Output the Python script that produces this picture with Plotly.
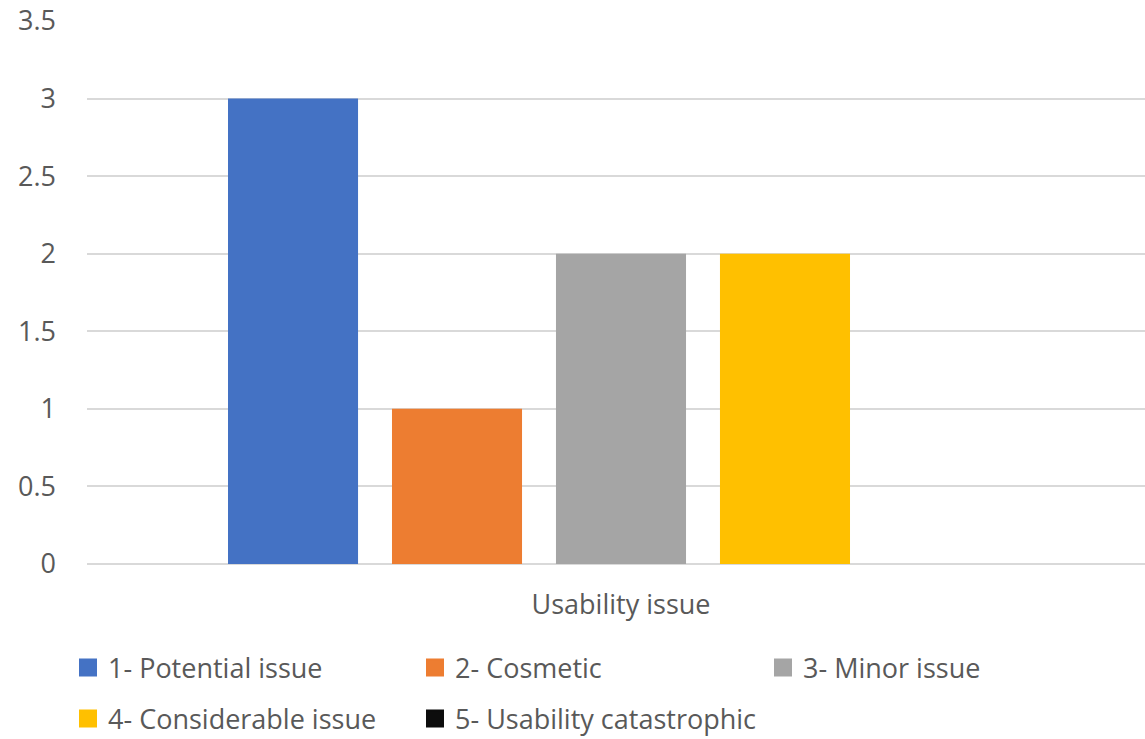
import plotly.graph_objects as go

# Severity ratings counted for the usability evaluation
category = ["Usability issue"]
series_names = [
    "1- Potential issue",
    "2- Cosmetic",
    "3- Minor issue",
    "4- Considerable issue",
    "5- Usability catastrophic",
]
series_values = [3, 1, 2, 2, 0]
series_colors = ["#4472C4", "#ED7D31", "#A5A5A5", "#FFC000", "#0D0D0D"]

FONT = "Open Sans"
FS = 27
TEXT = "#595959"
GRID = "#D9D9D9"

W, H = 1145, 739
L, T, B = 87, 21, 175
plot_h = H - T - B
plot_w = W - L


def px_x(px):
    return (px - L) / plot_w


def px_y(py):
    return (H - B - py) / plot_h


fig = go.Figure()

# bars (legend entries drawn separately with larger square markers)
for name, val, col in zip(series_names, series_values, series_colors):
    fig.add_trace(go.Bar(
        x=category, y=[val], name=name, marker_color=col,
        marker_line_width=0, showlegend=False, legendgroup=name,
    ))

# legend layout: three columns, two rows
legend_pos = [
    (110, 668), (457, 668), (805, 668),
    (110, 719), (457, 719),
]
legend_keys = ["legend", "legend2", "legend3", "legend4", "legend5"]
for name, col, key in zip(series_names, series_colors, legend_keys):
    fig.add_trace(go.Scatter(
        x=[None], y=[None], mode="markers", name=name, legendgroup=name,
        marker=dict(symbol="square", size=16, color=col,
                    line=dict(color=col, width=2)),
        legend=key, showlegend=True,
    ))

legend_layouts = {}
for key, (tx, ty) in zip(legend_keys, legend_pos):
    legend_layouts[key] = dict(
        x=px_x(tx - 42), y=px_y(ty), xanchor="left", yanchor="middle",
        orientation="v", bgcolor="rgba(0,0,0,0)", borderwidth=0,
        font=dict(family=FONT, size=FS, color=TEXT),
        itemclick=False, itemdoubleclick=False,
    )

center_frac = (621 - L) / plot_w
fig.update_layout(
    width=W, height=H,
    margin=dict(l=L, r=0, t=T, b=B, pad=0, autoexpand=False),
    paper_bgcolor="white", plot_bgcolor="white",
    barmode="group", bargap=0.225, bargroupgap=0.207,
    font=dict(family=FONT, size=FS, color=TEXT),
    showlegend=True,
    **legend_layouts,
)

fig.update_xaxes(
    type="category",
    range=[-center_frac, 1 - center_frac],
    showgrid=False, zeroline=False, showline=False,
    ticks="", ticklabelstandoff=22,
    tickfont=dict(family=FONT, size=FS, color=TEXT),
)
fig.update_yaxes(
    range=[0, 3.5], dtick=0.5, tick0=0,
    showgrid=True, gridcolor=GRID, gridwidth=1.5,
    zeroline=True, zerolinecolor=GRID, zerolinewidth=1.5,
    showline=False, ticks="", ticklabelstandoff=30,
    tickfont=dict(family=FONT, size=FS, color=TEXT),
)

fig.write_html("out.html")
